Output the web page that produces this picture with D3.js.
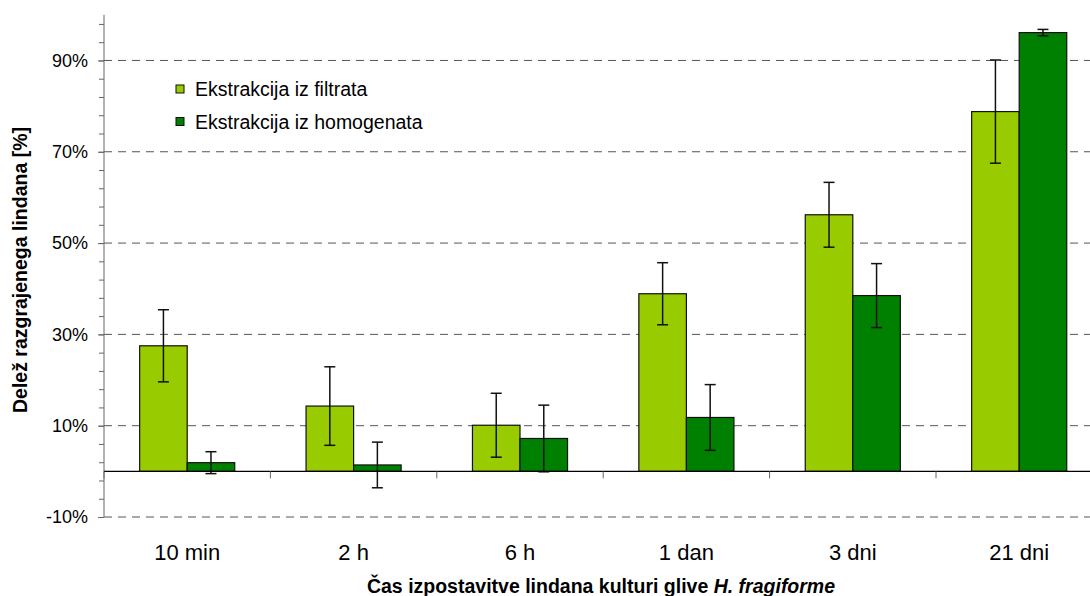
<!DOCTYPE html>
<html>
<head>
<meta charset="utf-8">
<script src="https://cdn.jsdelivr.net/npm/d3@7"></script>
<style>
  html, body { margin: 0; padding: 0; background: #fff; }
  svg { display: block; font-family: "Liberation Sans", Arial, sans-serif; }
</style>
</head>
<body>
<svg id="chart" width="1090" height="596"></svg>
<script>
// Time points of lindane exposure
const categories = ["10 min", "2 h", "6 h", "1 dan", "3 dni", "21 dni"];
const seriesNames = ["Ekstrakcija iz filtrata", "Ekstrakcija iz homogenata"];
// Share of degraded lindane [%] and its error
const filtrat = [27.5, 14.3, 10.1, 38.9, 56.2, 78.8];
const filtratErr = [7.9, 8.6, 7.0, 6.8, 7.1, 11.3];
const homogenat = [1.9, 1.4, 7.2, 11.8, 38.5, 96.1];
const homogenatErr = [2.4, 5.0, 7.3, 7.2, 7.0, 0.7];
const yTicks = [-10, 10, 30, 50, 70, 90];
const yMinorTicks = d3.range(-10, 100, 4);
const colors = ["#99cc00", "#008000"];

const svg = d3.select("#chart");
const plotLeft = 104, plotRight = 1102.4, plotTop = 14.8, plotBottom = 517;

const x0 = d3.scaleBand().domain(categories).range([plotLeft, plotRight]).padding(0);
const x1 = d3.scaleBand().domain(seriesNames).range([0, x0.bandwidth()])
  .paddingInner(0).paddingOuter(0.75);
const y = d3.scaleLinear().domain([-10, 100]).range([plotBottom, plotTop]);

// dashed gridlines at the labelled values
svg.append("g").selectAll("line").data(yTicks).join("line")
  .attr("x1", plotLeft).attr("x2", plotRight)
  .attr("y1", d => y(d)).attr("y2", d => y(d))
  .attr("stroke", "#555").attr("stroke-width", 1)
  .attr("stroke-dasharray", "8,6");

// minor ticks on the value axis
const minorAxis = svg.append("g").attr("transform", `translate(${plotLeft},0)`)
  .call(d3.axisLeft(y).tickValues(yMinorTicks).tickSize(5).tickFormat(""));
minorAxis.select(".domain").remove();
minorAxis.selectAll("line").attr("stroke", "#666");

// value axis with labels
const yAxis = svg.append("g").attr("transform", `translate(${plotLeft},0)`)
  .call(d3.axisLeft(y).tickValues(yTicks).tickSize(6).tickPadding(10)
    .tickFormat(d => d + "%"));
yAxis.select(".domain").attr("d", `M0,${y(-10)}V${y(100)}`).attr("stroke", "#666");
yAxis.selectAll("line").attr("stroke", "#666");
yAxis.selectAll("text").attr("font-size", 18).attr("fill", "#000")
  .attr("font-family", "'Liberation Sans', Arial, sans-serif");

// bars
const data = categories.map((c, i) => ({
  cat: c,
  vals: [
    { s: seriesNames[0], v: filtrat[i], e: filtratErr[i], k: 0 },
    { s: seriesNames[1], v: homogenat[i], e: homogenatErr[i], k: 1 }
  ]
}));

const groups = svg.append("g").selectAll("g").data(data).join("g")
  .attr("transform", d => `translate(${x0(d.cat)},0)`);

groups.selectAll("rect").data(d => d.vals).join("rect")
  .attr("x", d => x1(d.s))
  .attr("width", x1.bandwidth())
  .attr("y", d => y(Math.max(0, d.v)))
  .attr("height", d => Math.abs(y(d.v) - y(0)))
  .attr("fill", d => colors[d.k])
  .attr("stroke", "#111").attr("stroke-width", 1.2);

// category axis along zero
const xAxis = svg.append("g").attr("transform", `translate(0,${y(0)})`);
xAxis.append("line").attr("x1", plotLeft).attr("x2", plotRight)
  .attr("y1", 0).attr("y2", 0).attr("stroke", "#000").attr("stroke-width", 1.2);
xAxis.selectAll("line.tick").data(d3.range(categories.length + 1)).join("line")
  .attr("class", "tick")
  .attr("x1", i => plotLeft + i * x0.step()).attr("x2", i => plotLeft + i * x0.step())
  .attr("y1", 0).attr("y2", 7).attr("stroke", "#666");

// error bars
const cap = 5.5;
const err = groups.selectAll("g.err").data(d => d.vals).join("g").attr("class", "err")
  .attr("stroke", "#111").attr("stroke-width", 1.5);
err.append("line")
  .attr("x1", d => x1(d.s) + x1.bandwidth() / 2).attr("x2", d => x1(d.s) + x1.bandwidth() / 2)
  .attr("y1", d => y(d.v + d.e)).attr("y2", d => y(d.v - d.e));
err.append("line")
  .attr("x1", d => x1(d.s) + x1.bandwidth() / 2 - cap).attr("x2", d => x1(d.s) + x1.bandwidth() / 2 + cap)
  .attr("y1", d => y(d.v + d.e)).attr("y2", d => y(d.v + d.e));
err.append("line")
  .attr("x1", d => x1(d.s) + x1.bandwidth() / 2 - cap).attr("x2", d => x1(d.s) + x1.bandwidth() / 2 + cap)
  .attr("y1", d => y(d.v - d.e)).attr("y2", d => y(d.v - d.e));

// category labels
svg.append("g").selectAll("text").data(categories).join("text")
  .attr("x", d => x0(d) + x0.bandwidth() / 2)
  .attr("y", 560)
  .attr("text-anchor", "middle")
  .attr("font-size", 22)
  .text(d => d);

// axis titles
const xt = svg.append("text").attr("x", 601).attr("y", 593)
  .attr("text-anchor", "middle").attr("font-size", 19.5).attr("font-weight", "bold");
xt.append("tspan").text("Čas izpostavitve lindana kulturi glive ");
xt.append("tspan").attr("font-style", "italic").text("H. fragiforme");

svg.append("text")
  .attr("transform", "translate(27,270) rotate(-90)")
  .attr("text-anchor", "middle").attr("font-size", 19.5).attr("font-weight", "bold")
  .text("Delež razgrajenega lindana [%]");

// legend
const legend = svg.append("g").selectAll("g").data(seriesNames).join("g")
  .attr("transform", (d, i) => `translate(176,${89 + i * 32.5})`);
legend.append("rect").attr("x", 0).attr("y", -4).attr("width", 8).attr("height", 8)
  .attr("fill", (d, i) => colors[i]).attr("stroke", "#111").attr("stroke-width", 1);
legend.append("text").attr("x", 19).attr("y", 7).attr("font-size", 19.5).text(d => d);
</script>
</body>
</html>
